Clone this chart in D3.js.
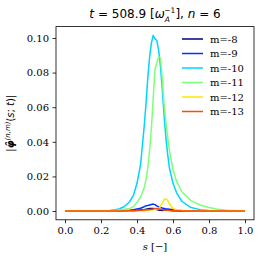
<!DOCTYPE html>
<html>
<head>
<meta charset="utf-8">
<script src="https://cdn.jsdelivr.net/npm/d3@7"></script>
<style>
  body { margin: 0; background: #fff; }
  svg text { fill: #000; }
</style>
</head>
<body>
<div id="chart"></div>
<script>
// radial coordinate s
const sGrid = [0, 0.1, 0.2, 0.25, 0.3, 0.33, 0.36, 0.38, 0.40, 0.42, 0.44, 0.45, 0.46, 0.47, 0.48, 0.49,
  0.50, 0.51, 0.52, 0.53, 0.54, 0.55, 0.56, 0.57, 0.58, 0.60, 0.62, 0.65, 0.70, 0.75, 0.80, 0.85, 0.90, 1.0];

const m8 = [0, 0, 0, 0, 0, 0.0001, 0.0002, 0.0003, 0.0004, 0.0006, 0.0008, 0.001, 0.0012, 0.0014, 0.0015, 0.0014,
  0.0012, 0.0009, 0.0006, 0.0004, 0.0003, 0.0006, 0.0008, 0.0006, 0.0005, 0.0002, 0.0001, 0, 0, 0, 0, 0, 0, 0];
const m9 = [0, 0, 0, 0, 0, 0.0003, 0.0005, 0.0008, 0.0012, 0.0016, 0.0025, 0.003, 0.0032, 0.0035, 0.0038, 0.004,
  0.0037, 0.003, 0.0024, 0.002, 0.0017, 0.0015, 0.0012, 0.0011, 0.001, 0.0008, 0.0005, 0.0003, 0.0001, 0, 0, 0, 0, 0];
const m10 = [0, 0, 0, 0.0003, 0.0012, 0.0026, 0.0055, 0.009, 0.016, 0.027, 0.049, 0.062, 0.077, 0.089, 0.097, 0.1015,
  0.0995, 0.0985, 0.093, 0.084, 0.071, 0.056, 0.043, 0.033, 0.025, 0.016, 0.0105, 0.0055, 0.002, 0.0008, 0.0003, 0.0001, 0, 0];
const m11 = [0, 0, 0, 0.0002, 0.0006, 0.001, 0.0015, 0.0025, 0.005, 0.008, 0.0135, 0.018, 0.025, 0.035, 0.048, 0.065,
  0.082, 0.0855, 0.089, 0.0885, 0.077, 0.062, 0.052, 0.043, 0.035, 0.024, 0.017, 0.011, 0.006, 0.0035, 0.002, 0.001, 0.0005, 0];
const m12 = [0, 0, 0, 0, 0, 0, 0, 0, 0.0001, 0.0002, 0.0002, 0.0003, 0.0004, 0.0005, 0.0006, 0.0008,
  0.001, 0.001, 0.0013, 0.0025, 0.0045, 0.0065, 0.0071, 0.0062, 0.0042, 0.0015, 0.0006, 0.0003, 0, 0, 0, 0, 0, 0];
const m13 = [0, 0, 0, 0, 0, 0, 0.0001, 0.0002, 0.0003, 0.0004, 0.0006, 0.0007, 0.0008, 0.0009, 0.001, 0.0012,
  0.0015, 0.0014, 0.0012, 0.001, 0.0008, 0.0006, 0.0005, 0.0004, 0.0003, 0.0002, 0.0001, 0, 0, 0, 0, 0, 0, 0];

const seriesNames = ["m=-8", "m=-9", "m=-10", "m=-11", "m=-12", "m=-13"];
const seriesValues = [m8, m9, m10, m11, m12, m13];
const seriesColors = ["#00007f", "#0030ff", "#00d4ff", "#7dff7a", "#ffe600", "#ff4a00"];

const xTicks = [0.0, 0.2, 0.4, 0.6, 0.8, 1.0];
const yTicks = [0.00, 0.02, 0.04, 0.06, 0.08, 0.10];

const width = 262;
const height = 260;
const margin = { top: 26.6, right: 8, bottom: 40.2, left: 56 };

const svg = d3.select("#chart").append("svg")
  .attr("width", width)
  .attr("height", height);

const x = d3.scaleLinear().domain([-0.05, 1.05]).range([margin.left, width - margin.right]);
const yMax = d3.max(seriesValues, (v) => d3.max(v));
const pad = yMax * 0.05;
const y = d3.scaleLinear().domain([-pad, yMax + pad]).range([height - margin.bottom, margin.top]);

const tickFont = "'DejaVu Serif', serif";

// axes
const xAxis = svg.append("g")
  .attr("transform", "translate(0," + (height - margin.bottom) + ")")
  .call(d3.axisBottom(x).tickValues(xTicks).tickFormat(d3.format(".1f")).tickSizeOuter(0).tickSize(3.5).tickPadding(3.5));
const yAxis = svg.append("g")
  .attr("transform", "translate(" + margin.left + ",0)")
  .call(d3.axisLeft(y).tickValues(yTicks).tickFormat(d3.format(".2f")).tickSizeOuter(0).tickSize(3.5).tickPadding(3.5));
[xAxis, yAxis].forEach((g) => {
  g.select(".domain").remove();
  g.selectAll("line").attr("stroke", "#000").attr("stroke-width", 0.8);
  g.selectAll("text").attr("font-family", tickFont).attr("font-size", 10).attr("fill", "#000");
});

// lines
const line = d3.line()
  .x((d, i) => x(sGrid[i]))
  .y((d) => y(d));

svg.append("g")
  .selectAll("path")
  .data(seriesValues)
  .enter()
  .append("path")
  .attr("d", (d) => line(d))
  .attr("fill", "none")
  .attr("stroke", (d, i) => seriesColors[i])
  .attr("stroke-width", 1.5)
  .attr("stroke-linejoin", "round");

// frame
svg.append("rect")
  .attr("x", margin.left)
  .attr("y", margin.top)
  .attr("width", width - margin.left - margin.right)
  .attr("height", height - margin.top - margin.bottom)
  .attr("fill", "none")
  .attr("stroke", "#000")
  .attr("stroke-width", 0.8);

// legend
const legend = svg.append("g").attr("transform", "translate(182,39)");
seriesNames.forEach((name, i) => {
  const row = legend.append("g").attr("transform", "translate(0," + i * 14.5 + ")");
  row.append("line")
    .attr("x1", 0).attr("x2", 21)
    .attr("y1", 0).attr("y2", 0)
    .attr("stroke", seriesColors[i])
    .attr("stroke-width", 1.5);
  row.append("text")
    .attr("x", 28)
    .attr("y", 3.6)
    .attr("font-family", tickFont)
    .attr("font-size", 10)
    .text(name);
});

// title
const title = svg.append("text")
  .attr("x", (margin.left + width - margin.right) / 2)
  .attr("y", 18)
  .attr("text-anchor", "middle")
  .attr("font-family", "'DejaVu Sans', sans-serif")
  .attr("font-size", 12);
title.append("tspan").attr("font-style", "italic").text("t");
title.append("tspan").text(" = 508.9 [");
title.append("tspan").attr("font-style", "italic").text("ω");
title.append("tspan").attr("font-size", 7.5).attr("font-style", "italic").attr("dy", 3.5).text("A");
title.append("tspan").attr("font-size", 7.5).attr("dx", -5.5).attr("dy", -8.5).text("−1");
title.append("tspan").attr("dy", 5).text("],  ");
title.append("tspan").attr("font-style", "italic").text("n");
title.append("tspan").text(" = 6");

// x label
const xl = svg.append("text")
  .attr("x", (margin.left + width - margin.right) / 2)
  .attr("y", 250)
  .attr("text-anchor", "middle")
  .attr("font-family", tickFont)
  .attr("font-size", 10);
xl.append("tspan").attr("font-style", "italic").text("s");
xl.append("tspan").text(" [−]");

// y label
const yl = svg.append("text")
  .attr("transform", "translate(14," + (margin.top + height - margin.bottom) / 2 + ") rotate(-90)")
  .attr("text-anchor", "middle")
  .attr("font-family", "'DejaVu Sans', sans-serif")
  .attr("font-size", 10);
yl.append("tspan").text("|");
yl.append("tspan").attr("font-style", "italic").attr("font-weight", "bold").text("φ̂");
yl.append("tspan").attr("font-size", 7).attr("font-style", "italic").attr("dy", -4).text("(n,m)");
yl.append("tspan").attr("dy", 4).text("(");
yl.append("tspan").attr("font-style", "italic").text("s");
yl.append("tspan").text("; ");
yl.append("tspan").attr("font-style", "italic").text("t");
yl.append("tspan").text(")|");
</script>
</body>
</html>
